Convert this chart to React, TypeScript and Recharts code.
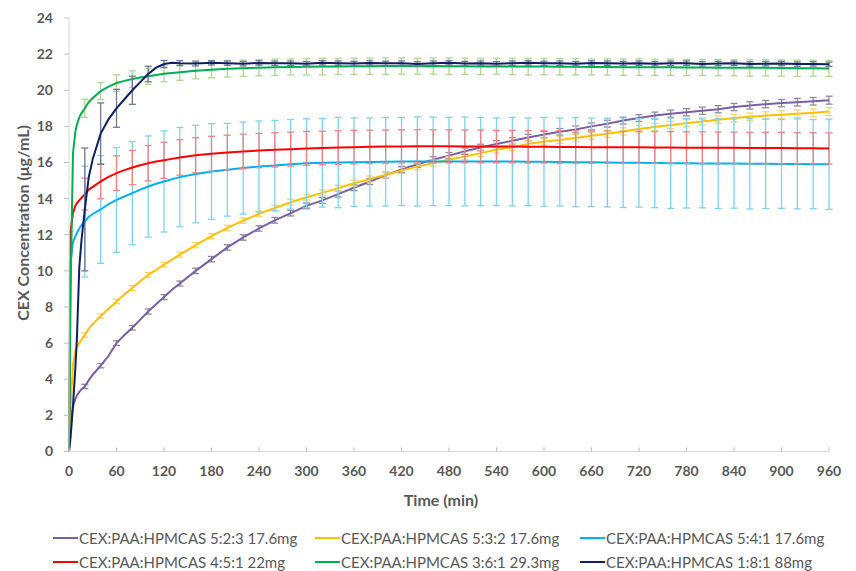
import React from 'react';
import { LineChart, Line, XAxis, YAxis, ErrorBar, Legend } from 'recharts';

// time points (min)
const times = [0, 2, 5, 8, 10, 13, 16, 20, 25, 30, 40, 50, 60, 70, 80, 90, 100, 110, 120, 130, 140,
  160, 180, 200, 220, 240, 260, 280, 300, 320, 340, 360, 380, 400, 420, 440, 460, 480, 500, 520, 540,
  560, 580, 600, 620, 640, 660, 680, 700, 720, 740, 760, 780, 800, 820, 840, 860, 880, 900, 920, 940, 960];

// times at which error bars were drawn
const errorTimes = [20, 40, 60, 80, 100, 120, 140, 160, 180, 200, 220, 240, 260, 280, 300, 320, 340, 360,
  380, 400, 420, 440, 460, 480, 500, 520, 540, 560, 580, 600, 620, 640, 660, 680, 700, 720, 740, 760,
  780, 800, 820, 840, 860, 880, 900, 920, 940, 960];

const xTicks = [0, 60, 120, 180, 240, 300, 360, 420, 480, 540, 600, 660, 720, 780, 840, 900, 960];
const yTicks = [0, 2, 4, 6, 8, 10, 12, 14, 16, 18, 20, 22, 24];

const seriesNames = [
  'CEX:PAA:HPMCAS 5:2:3 17.6mg',
  'CEX:PAA:HPMCAS 5:3:2 17.6mg',
  'CEX:PAA:HPMCAS 5:4:1 17.6mg',
  'CEX:PAA:HPMCAS 4:5:1 22mg',
  'CEX:PAA:HPMCAS 3:6:1 29.3mg',
  'CEX:PAA:HPMCAS 1:8:1 88mg',
];

const purpleValues = [0, 1.6, 2.5, 2.9, 3.1, 3.3, 3.45, 3.6, 3.95, 4.25, 4.75, 5.3, 6.0, 6.45, 6.85, 7.3, 7.75, 8.15, 8.55, 8.95, 9.3,
  10.0, 10.65, 11.3, 11.85, 12.35, 12.8, 13.2, 13.6, 13.9, 14.25, 14.6, 14.95, 15.3, 15.62, 15.9, 16.15, 16.38, 16.62, 16.83, 17.03,
  17.2, 17.38, 17.55, 17.7, 17.83, 18.0, 18.15, 18.32, 18.46, 18.6, 18.7, 18.78, 18.87, 18.95, 19.07, 19.16, 19.23, 19.29, 19.34, 19.39, 19.45];

const yellowValues = [0, 2.5, 4.8, 5.6, 5.8, 6.0, 6.2, 6.45, 6.8, 7.05, 7.5, 7.9, 8.3, 8.7, 9.05, 9.42, 9.78, 10.05, 10.35, 10.62, 10.9,
  11.42, 11.92, 12.38, 12.78, 13.16, 13.48, 13.8, 14.08, 14.32, 14.58, 14.85, 15.08, 15.32, 15.55, 15.77, 15.97, 16.15, 16.33, 16.52, 16.7,
  16.85, 17.02, 17.16, 17.25, 17.36, 17.48, 17.59, 17.72, 17.85, 17.96, 18.08, 18.18, 18.27, 18.37, 18.46, 18.53, 18.6, 18.65, 18.7, 18.75, 18.82];

const blueValues = [0, 10.5, 11.6, 11.9, 12.1, 12.35, 12.55, 12.73, 13.0, 13.15, 13.4, 13.7, 13.93, 14.12, 14.3, 14.5, 14.67, 14.82, 14.95, 15.08, 15.19,
  15.36, 15.5, 15.6, 15.69, 15.78, 15.83, 15.9, 15.96, 15.98, 16.0, 16.02, 16.03, 16.04, 16.05, 16.06, 16.06, 16.06, 16.06, 16.05, 16.05,
  16.05, 16.04, 16.04, 16.03, 16.02, 16.01, 16.0, 15.99, 15.98, 15.97, 15.96, 15.96, 15.95, 15.94, 15.94, 15.93, 15.93, 15.92, 15.92, 15.91, 15.9];

const redValues = [0, 12.2, 13.2, 13.6, 13.75, 13.9, 14.05, 14.25, 14.5, 14.65, 14.95, 15.2, 15.41, 15.58, 15.72, 15.85, 15.96, 16.05, 16.12, 16.2, 16.28,
  16.4, 16.48, 16.55, 16.61, 16.66, 16.7, 16.74, 16.78, 16.8, 16.83, 16.85, 16.87, 16.88, 16.89, 16.9, 16.9, 16.9, 16.89, 16.89, 16.88,
  16.88, 16.87, 16.87, 16.86, 16.86, 16.85, 16.85, 16.84, 16.84, 16.83, 16.83, 16.82, 16.82, 16.81, 16.81, 16.8, 16.8, 16.8, 16.79, 16.79, 16.78];

const greenValues = [0, 9.0, 16.5, 17.7, 18.1, 18.5, 18.75, 19.0, 19.35, 19.57, 19.95, 20.2, 20.4, 20.52, 20.62, 20.7, 20.77, 20.85, 20.91, 20.96, 21.0,
  21.08, 21.14, 21.19, 21.22, 21.25, 21.27, 21.29, 21.3, 21.31, 21.32, 21.33, 21.33, 21.34, 21.34, 21.33, 21.34, 21.33, 21.33, 21.32, 21.33,
  21.32, 21.31, 21.31, 21.3, 21.3, 21.29, 21.29, 21.28, 21.28, 21.27, 21.27, 21.26, 21.26, 21.25, 21.25, 21.24, 21.24, 21.23, 21.22, 21.22, 21.21];

const navyValues = [0, 0.8, 2.5, 4.6, 6.3, 10.2, 11.8, 13.4, 15.2, 16.2, 17.6, 18.4, 19.0, 19.5, 20.0, 20.45, 20.9, 21.25, 21.45, 21.52, 21.5,
  21.48, 21.52, 21.5, 21.47, 21.51, 21.49, 21.5, 21.47, 21.52, 21.5, 21.48, 21.51, 21.49, 21.5, 21.46, 21.5, 21.52, 21.48, 21.5, 21.47,
  21.5, 21.52, 21.49, 21.5, 21.47, 21.51, 21.5, 21.48, 21.5, 21.47, 21.49, 21.5, 21.46, 21.48, 21.49, 21.46, 21.47, 21.48, 21.45, 21.46, 21.44];

const purpleErrors = [0.12, 0.12, 0.13, 0.13, 0.14, 0.14, 0.14, 0.15, 0.15, 0.15, 0.15, 0.15, 0.16, 0.16, 0.16, 0.16, 0.16, 0.16,
  0.17, 0.17, 0.17, 0.17, 0.17, 0.17, 0.18, 0.18, 0.18, 0.18, 0.18, 0.18, 0.18, 0.19, 0.19, 0.19, 0.19, 0.19, 0.19, 0.2,
  0.2, 0.2, 0.2, 0.2, 0.2, 0.2, 0.2, 0.21, 0.21, 0.22];

const yellowErrors = [0.12, 0.12, 0.12, 0.13, 0.13, 0.13, 0.14, 0.14, 0.14, 0.15, 0.15, 0.15, 0.15, 0.16, 0.16, 0.16, 0.16, 0.16,
  0.17, 0.17, 0.17, 0.17, 0.17, 0.18, 0.18, 0.18, 0.18, 0.18, 0.18, 0.19, 0.19, 0.19, 0.19, 0.19, 0.2, 0.2, 0.2, 0.2,
  0.2, 0.2, 0.2, 0.21, 0.21, 0.21, 0.21, 0.22, 0.22, 0.22];

const blueErrors = [3.07, 2.98, 2.9, 2.85, 2.8, 2.8, 2.75, 2.7, 2.65, 2.57, 2.55, 2.52, 2.5, 2.48, 2.46, 2.45, 2.5, 2.45,
  2.44, 2.45, 2.43, 2.47, 2.45, 2.44, 2.46, 2.44, 2.42, 2.45, 2.43, 2.46, 2.44, 2.47, 2.45, 2.46, 2.48, 2.45, 2.47, 2.5,
  2.48, 2.46, 2.49, 2.47, 2.5, 2.48, 2.46, 2.49, 2.47, 2.5];

const redErrors = [0.88, 0.96, 0.96, 0.95, 0.98, 1.0, 0.98, 0.97, 0.97, 0.96, 0.96, 0.95, 0.95, 0.94, 0.94, 0.93, 0.93, 0.93,
  0.92, 0.92, 0.92, 0.92, 0.91, 0.91, 0.91, 0.91, 0.9, 0.9, 0.9, 0.9, 0.9, 0.9, 0.89, 0.89, 0.89, 0.89, 0.88, 0.88,
  0.88, 0.88, 0.88, 0.87, 0.87, 0.87, 0.87, 0.86, 0.86, 0.86];

const greenErrors = [0.5, 0.48, 0.46, 0.45, 0.45, 0.44, 0.45, 0.45, 0.45, 0.46, 0.45, 0.45, 0.45, 0.44, 0.45, 0.46, 0.45, 0.45,
  0.45, 0.46, 0.45, 0.44, 0.45, 0.46, 0.45, 0.45, 0.44, 0.45, 0.46, 0.45, 0.45, 0.45, 0.44, 0.45, 0.45, 0.46, 0.45, 0.45,
  0.45, 0.44, 0.45, 0.45, 0.46, 0.45, 0.45, 0.45, 0.44, 0.45];

const navyErrors = [3.4, 1.7, 1.05, 0.78, 0.43, 0.2, 0.14, 0.13, 0.12, 0.12, 0.12, 0.12, 0.12, 0.12, 0.12, 0.12, 0.12, 0.12,
  0.12, 0.12, 0.12, 0.12, 0.12, 0.12, 0.12, 0.12, 0.12, 0.12, 0.12, 0.12, 0.12, 0.12, 0.12, 0.12, 0.12, 0.12, 0.12, 0.12,
  0.12, 0.12, 0.12, 0.12, 0.12, 0.12, 0.12, 0.12, 0.12, 0.12];

const series = [
  { key: 's1', name: seriesNames[0], values: purpleValues, errors: purpleErrors, color: '#7b5fa6', errColor: '#8d8a9e' },
  { key: 's2', name: seriesNames[1], values: yellowValues, errors: yellowErrors, color: '#ffc000', errColor: '#f7d469' },
  { key: 's3', name: seriesNames[2], values: blueValues, errors: blueErrors, color: '#00b0f0', errColor: '#7fd2f2' },
  { key: 's4', name: seriesNames[3], values: redValues, errors: redErrors, color: '#ff0000', errColor: '#f28383' },
  { key: 's5', name: seriesNames[4], values: greenValues, errors: greenErrors, color: '#00b050', errColor: '#acd893' },
  { key: 's6', name: seriesNames[5], values: navyValues, errors: navyErrors, color: '#0f1f63', errColor: '#6e7797' },
];

const table = times.map((t, i) => {
  const row: Record<string, number> = { t };
  const ei = errorTimes.indexOf(t);
  series.forEach((s) => {
    row[s.key] = s.values[i];
    if (ei >= 0) row[s.key + 'e'] = s.errors[ei];
  });
  return row;
});

const FONT = 'Lato, "Open Sans", sans-serif';
const legendCols = [53, 315, 580];

const LegendContent = () => (
  <svg width={856} height={48} style={{ display: 'block' }}>
    {series.map((s, i) => {
      const x = legendCols[i % 3];
      const y = 13 + Math.floor(i / 3) * 24;
      return (
        <g key={s.key}>
          <line x1={x} x2={x + 25} y1={y} y2={y} stroke={s.color} strokeWidth={2} />
          <text x={x + 26} y={y} dominantBaseline="central" fontSize={15} fill="#595959" fontFamily={FONT}>
            {s.name}
          </text>
        </g>
      );
    })}
  </svg>
);

const tickStyle = { fontSize: 14, fontWeight: 700, fill: '#595959', fontFamily: FONT };

export default function App() {
  return (
    <div style={{ position: 'absolute', left: 0, top: 0, background: '#fff' }}>
      <LineChart width={856} height={571} data={table} margin={{ top: 18, right: 27, bottom: 21.5, left: 0 }}>
        <XAxis
          dataKey="t"
          type="number"
          domain={[0, 960]}
          ticks={xTicks}
          interval={0}
          tickSize={-4}
          tickMargin={19}
          height={50}
          axisLine={{ stroke: '#d9d9d9' }}
          tickLine={{ stroke: '#bfbfbf' }}
          tick={tickStyle}
          label={{
            content: () => (
              <text x={441} y={499} textAnchor="middle" dominantBaseline="central" fontSize={16} fontWeight={700} fill="#595959" fontFamily={FONT}>
                Time (min)
              </text>
            ),
          }}
        />
        <YAxis
          type="number"
          domain={[0, 24]}
          ticks={yTicks}
          interval={0}
          width={69}
          tickSize={5}
          tickMargin={11}
          axisLine={{ stroke: '#d9d9d9' }}
          tickLine={{ stroke: '#bfbfbf' }}
          tick={tickStyle}
          label={{
            content: () => (
              <text x={22} y={223} transform="rotate(-90 22 223)" textAnchor="middle" dominantBaseline="central" fontSize={16} fontWeight={700} fill="#595959" fontFamily={FONT}>
                CEX Concentration (μg/mL)
              </text>
            ),
          }}
        />
        <Legend content={LegendContent} wrapperStyle={{ left: 0, top: 525, width: 856, height: 48 }} />
        {series.map((s) => (
          <Line
            key={s.key}
            type="linear"
            dataKey={s.key}
            name={s.name}
            stroke={s.color}
            strokeWidth={2}
            dot={false}
            activeDot={false}
            isAnimationActive={false}
          >
            <ErrorBar dataKey={s.key + 'e'} width={3.5} stroke={s.errColor} strokeWidth={1.3} direction="y" />
          </Line>
        ))}
      </LineChart>
    </div>
  );
}
